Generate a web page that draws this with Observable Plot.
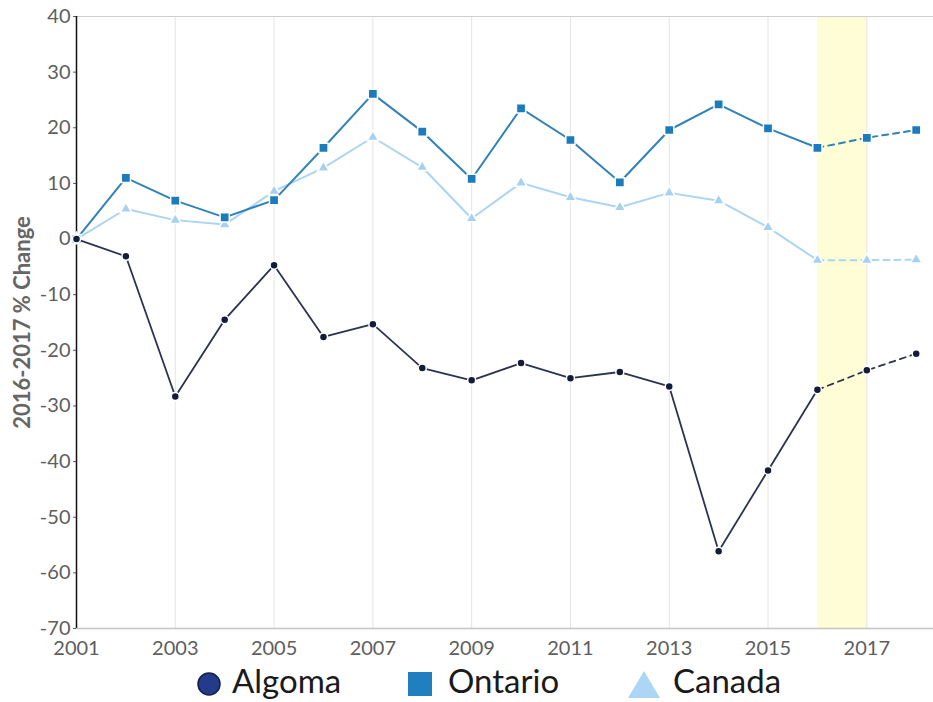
<!DOCTYPE html>
<html>
<head>
<meta charset="utf-8">
<script src="https://cdn.jsdelivr.net/npm/d3@7"></script>
<script src="https://cdn.jsdelivr.net/npm/@observablehq/plot@0.6"></script>
<style>
  html, body { margin: 0; padding: 0; background: #fff; }
  #legend { position: relative; width: 933px; height: 40px; font-family: Lato, "Open Sans", sans-serif; font-size: 33px; color: #1a1a1a; }
  #legend .t { position: absolute; top: 2px; line-height: 32px; white-space: nowrap; }
  #legend svg { position: absolute; overflow: visible; }
</style>
</head>
<body>
<div id="chart"></div>
<div id="legend">
  <svg style="left:197px;top:10px" width="24" height="24"><circle cx="12" cy="12" r="11" fill="#243a8b" stroke="#16204a" stroke-width="1.5"/></svg>
  <span class="t" style="left:232px">Algoma</span>
  <svg style="left:408px;top:10px" width="24" height="24"><rect x="0" y="0" width="24" height="24" fill="#1f7fbf"/></svg>
  <span class="t" style="left:448px">Ontario</span>
  <svg style="left:628px;top:9px" width="32" height="27"><polygon points="16,0 32,27 0,27" fill="#acd6f3"/></svg>
  <span class="t" style="left:673px">Canada</span>
</div>
<script>
const years   = [2001,2002,2003,2004,2005,2006,2007,2008,2009,2010,2011,2012,2013,2014,2015,2016,2017,2018];
const algoma  = [0,-3.1,-28.3,-14.5,-4.7,-17.6,-15.3,-23.2,-25.4,-22.3,-25.0,-23.9,-26.5,-56.1,-41.6,-27.1,-23.6,-20.6];
const ontario = [0,11.0,6.9,3.9,7.0,16.4,26.1,19.3,10.8,23.5,17.8,10.2,19.6,24.2,19.9,16.4,18.2,19.6];
const canada  = [0,5.4,3.4,2.6,8.6,12.8,18.3,12.9,3.7,10.1,7.5,5.7,8.3,6.9,2.1,-3.8,-3.8,-3.7];
const xTicks  = [2001,2003,2005,2007,2009,2011,2013,2015,2017];
const yTicks  = [40,30,20,10,0,-10,-20,-30,-40,-50,-60,-70];
const band    = [{x1: 2016, x2: 2017}];
const yLabel  = "2016-2017 % Change";
const splitYear = 2016;

const rows = vals => years.map((year, i) => ({year, value: vals[i]}));
const solid = vals => rows(vals).filter(d => d.year <= splitYear);
const dashed = vals => rows(vals).filter(d => d.year >= splitYear);

const C = {
  algomaLine: "#2c3350", algomaDot: "#141c3b",
  ontarioLine: "#3082b8", ontarioDot: "#1a7bbd",
  canadaLine: "#acd5f1", canadaDot: "#a6d1f1"
};

function seriesMarks(vals, lineColor, dotColor, symbol, r, sw) {
  return [
    Plot.line(solid(vals), {x: "year", y: "value", stroke: lineColor, strokeWidth: sw}),
    Plot.line(dashed(vals), {x: "year", y: "value", stroke: lineColor, strokeWidth: sw, strokeDasharray: "6,5"}),
    Plot.dot(rows(vals), {x: "year", y: "value", symbol, r, fill: dotColor, stroke: "white", strokeWidth: 1.5})
  ];
}

const chart = Plot.plot({
  width: 933,
  height: 662,
  marginLeft: 76,
  marginRight: 0,
  marginTop: 16,
  marginBottom: 34,
  style: {fontFamily: "Lato, 'Open Sans', sans-serif", fontSize: "20px", color: "#5e5e5e", background: "white", overflow: "visible"},
  x: {domain: [2001, 2018.35], ticks: xTicks, tickFormat: d => String(d), tickSize: 0, tickPadding: 12, label: null},
  y: {domain: [-70, 40], ticks: yTicks, tickFormat: d => String(d), tickSize: 3, tickPadding: 3, label: null},
  marks: [
    Plot.rect(band, {x1: "x1", x2: "x2", y1: -70, y2: 40, fill: "#fefdd5"}),
    Plot.ruleX(xTicks.slice(1), {stroke: "#e4e4e4", strokeWidth: 1}),
    Plot.ruleY([40], {stroke: "#cfcfcf", strokeWidth: 1.2}),
    Plot.ruleY([-70], {stroke: "#c4c4c4", strokeWidth: 1.5}),
    Plot.ruleX([2001], {stroke: "#111", strokeWidth: 1.5}),
    ...seriesMarks(canada, C.canadaLine, C.canadaDot, "triangle", 4.3, 2),
    ...seriesMarks(ontario, C.ontarioLine, C.ontarioDot, "square", 5.2, 2),
    ...seriesMarks(algoma, C.algomaLine, C.algomaDot, "circle", 4, 1.8),
    Plot.text([yLabel], {text: d => d, frameAnchor: "left", textAnchor: "middle", dx: -54, rotate: -90, fontWeight: "bold", fontSize: 22, fill: "#666"})
  ]
});
document.getElementById("chart").appendChild(chart);
</script>
</body>
</html>
